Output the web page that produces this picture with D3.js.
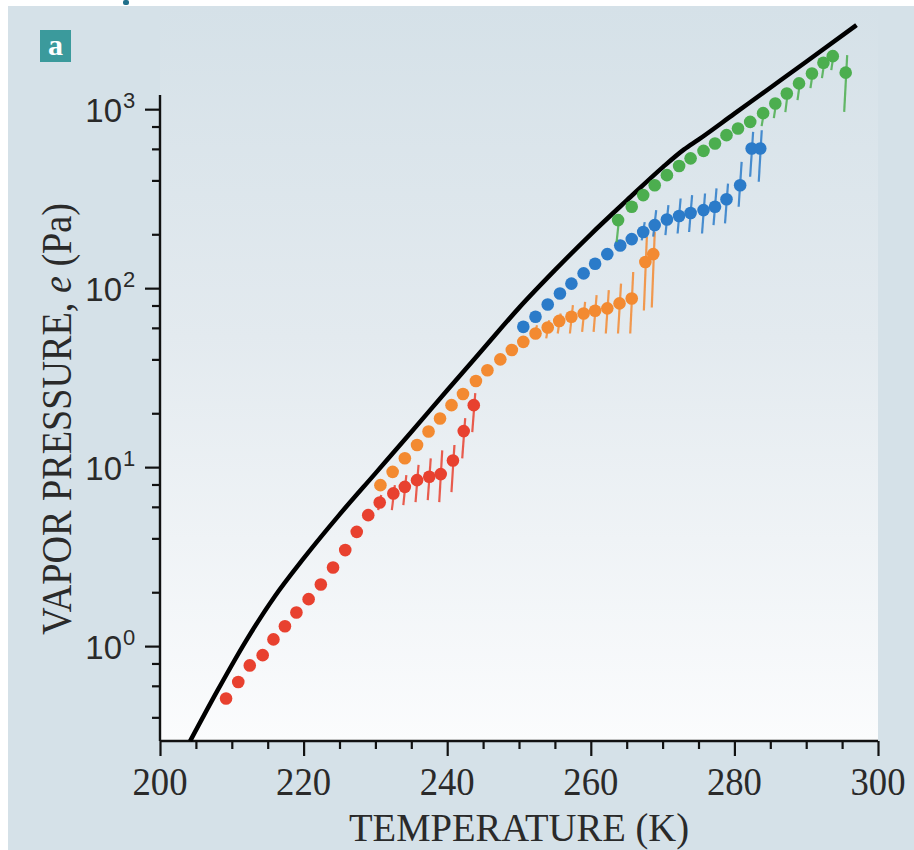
<!DOCTYPE html>
<html><head><meta charset="utf-8">
<script src="https://cdn.jsdelivr.net/npm/d3@7"></script>
<style>html,body{margin:0;padding:0;background:#fff;}svg{display:block;}</style>
</head><body>
<svg id="chart" width="914" height="850"></svg>
<script>
// ---------- data ----------
const xTickValues = [200, 220, 240, 260, 280, 300];
const xTickLabels = ["200", "220", "240", "260", "280", "300"];
const xMinorTicks = [205, 210, 215, 225, 230, 235, 245, 250, 255, 265, 270, 275, 285, 290, 295];
const yTickValues = [1, 10, 100, 1000];
const yTickExponents = ["0", "1", "2", "3"];
const yMinorTicks = [0.4, 0.6, 0.8, 2, 4, 6, 8, 20, 40, 60, 80, 200, 400, 600, 800];

// saturation curve (black)
const curveT = [204.2, 208, 212, 216, 220, 225, 230, 235, 240, 245, 250, 255, 260, 265, 270, 273, 275, 280, 285, 290, 297];
const curveE = [0.295, 0.564, 1.074, 1.90, 3.09, 5.43, 9.23, 15.7, 26.9, 45.7, 77.6, 126, 200, 309, 473, 596, 676, 944, 1318, 1841, 2951];

// red series
const redT  = [209.2, 210.9, 212.5, 214.3, 215.8, 217.4, 219.0, 220.7, 222.4, 224.1, 225.8, 227.4, 229.0, 230.6, 232.5, 234.1, 235.8, 237.5, 239.1, 240.8, 242.3, 243.7];
const redE  = [0.51, 0.63, 0.78, 0.89, 1.09, 1.29, 1.54, 1.83, 2.21, 2.75, 3.44, 4.35, 5.39, 6.35, 7.13, 7.76, 8.46, 8.83, 9.14, 10.9, 15.9, 22.2];
const redLo = [null, null, null, null, null, null, null, null, null, null, null, null, null, 5.75, 5.75, 6.13, 6.37, 6.54, 6.37, 7.25, 11.2, 15.7];
const redHi = [null, null, null, null, null, null, null, null, null, null, null, null, null, 6.98, 7.93, 9.03, 10.3, 11.2, 12.4, 13.3, 18.8, 25.9];

// orange series
const orangeT  = [230.7, 232.4, 234.1, 235.8, 237.4, 239.0, 240.6, 242.2, 244.0, 245.6, 247.4, 249.0, 250.6, 252.3, 254.0, 255.6, 257.3, 259.0, 260.6, 262.3, 264.0, 265.7, 267.6, 268.7];
const orangeE  = [7.93, 9.41, 11.2, 13.3, 15.8, 18.7, 22.2, 25.6, 30.3, 34.8, 40.0, 45.1, 50.1, 55.8, 60.3, 65.6, 69.2, 72.2, 74.7, 77.1, 82.2, 87.6, 140, 155];
const orangeLo = [null, null, null, null, null, null, null, null, null, null, null, null, null, 53.5, 52.4, 55.8, 55.8, 57.0, 57.0, 55.8, 55.8, 55.8, 75, 78];
const orangeHi = [null, null, null, null, null, null, null, null, null, null, null, null, null, 62.1, 66.2, 72.2, 80.4, 83.8, 91.4, 97.4, 106, 123, 194, 206];

// blue series
const blueT  = [250.6, 252.3, 254.0, 255.7, 257.3, 259.0, 260.6, 262.3, 264.1, 265.7, 267.3, 268.9, 270.6, 272.3, 273.9, 275.7, 277.3, 278.9, 280.8, 282.4, 283.6];
const blueE  = [60.8, 69.2, 81.1, 93.4, 106, 121, 137, 155, 173, 188, 206, 225, 242, 253, 263, 273, 285, 314, 376, 603, 603];
const blueLo = [null, null, null, null, null, null, null, null, null, null, 185, 194, 198, 202, 206, 202, 225, 230, 285, 419, 393];
const blueHi = [null, null, null, null, null, null, null, null, null, null, 234, 273, 291, 317, 331, 338, 361, 384, 508, 747, 763];

// green series
const greenT  = [263.8, 265.7, 267.3, 268.9, 270.6, 272.3, 273.9, 275.7, 277.3, 278.9, 280.5, 282.2, 284.0, 285.7, 287.3, 289.0, 290.8, 292.4, 293.7, 295.5];
const greenE  = [240, 285, 331, 376, 428, 481, 531, 585, 643, 716, 780, 849, 950, 1076, 1224, 1393, 1583, 1816, 1978, 1600];
const greenLo = [181, null, null, null, null, null, null, null, null, null, null, null, 804, 891, 962, 1122, 1310, 1490, 1651, 966];
const greenHi = [259, null, null, null, null, null, null, null, null, null, null, null, 1013, 1151, 1310, 1490, 1694, 1927, 2137, 2004];

const seriesColors = ["#e8412f", "#f38a31", "#2b7bc9", "#4cae4f"];

// ---------- drawing ----------
const svg = d3.select("#chart");
const x = d3.scaleLinear().domain([200, 300]).range([160, 878]);
const y = d3.scaleLog().domain([0.295, 1200]).range([741, 95]);

// panel background
svg.append("rect").attr("x", 0).attr("y", 0).attr("width", 914).attr("height", 850).attr("fill", "#ffffff");
svg.append("rect").attr("x", 8).attr("y", 6).attr("width", 906).attr("height", 844).attr("fill", "#d5e1e8");
svg.append("rect").attr("x", 123).attr("y", 0).attr("width", 6).attr("height", 5).attr("rx", 2).attr("fill", "#1f6f8b");

const defs = svg.append("defs");
const grad = defs.append("linearGradient").attr("id", "bg").attr("x1", 0).attr("y1", 0).attr("x2", 0).attr("y2", 1);
grad.append("stop").attr("offset", "0%").attr("stop-color", "#d5e1e8");
grad.append("stop").attr("offset", "45%").attr("stop-color", "#e3eaef");
grad.append("stop").attr("offset", "100%").attr("stop-color", "#fbfcfd");
svg.append("rect").attr("x", 160).attr("y", 6).attr("width", 718).attr("height", 735).attr("fill", "url(#bg)");

// label "a"
svg.append("rect").attr("x", 40).attr("y", 30).attr("width", 31).attr("height", 32).attr("fill", "#3b9a9c");
svg.append("text").attr("x", 55.5).attr("y", 55).attr("text-anchor", "middle")
  .attr("font-family", "Liberation Serif").attr("font-weight", "bold").attr("font-size", 30).attr("fill", "#fff").text("a");

// axes
const axisColor = "#111";
const xAxisG = svg.append("g").attr("transform", "translate(0,741)");
xAxisG.call(d3.axisBottom(x).tickValues(xMinorTicks).tickSize(8).tickFormat(""));
xAxisG.call(g => g.select(".domain").remove());
const xMajor = svg.append("g").attr("transform", "translate(0,741)");
xMajor.call(d3.axisBottom(x).tickValues(xTickValues).tickSize(15).tickFormat(""));
[xAxisG, xMajor].forEach(g => {
  g.selectAll("line").attr("stroke", axisColor).attr("stroke-width", 2.2);
  g.selectAll(".domain").attr("stroke", axisColor).attr("stroke-width", 2.4);
});
xMajor.select(".domain").attr("d", `M${x(200)},0H${x(300)}`);

const yAxisG = svg.append("g").attr("transform", "translate(160,0)");
yAxisG.call(d3.axisLeft(y).tickValues(yMinorTicks).tickSize(8).tickFormat(""));
yAxisG.call(g => g.select(".domain").remove());
const yMajor = svg.append("g").attr("transform", "translate(160,0)");
yMajor.call(d3.axisLeft(y).tickValues(yTickValues).tickSize(15).tickFormat(""));
[yAxisG, yMajor].forEach(g => {
  g.selectAll("line").attr("stroke", axisColor).attr("stroke-width", 2.2);
  g.selectAll(".domain").attr("stroke", axisColor).attr("stroke-width", 2.4);
});
yMajor.select(".domain").attr("d", `M0,${y.range()[0]}V${y.range()[1]}`);

// x tick labels
svg.append("g").selectAll("text").data(xTickValues).join("text")
  .attr("x", d => x(d)).attr("y", 795).attr("text-anchor", "middle")
  .attr("font-family", "Liberation Serif").attr("font-size", 40).attr("fill", "#2a2a2a")
  .attr("textLength", 55).attr("lengthAdjust", "spacingAndGlyphs")
  .text((d, i) => xTickLabels[i]);

// y tick labels 10^n
const yl = svg.append("g").selectAll("g").data(yTickValues).join("g");
yl.append("text").attr("x", 122).attr("y", d => y(d) + 13).attr("text-anchor", "end")
  .attr("font-family", "Liberation Sans").attr("font-size", 33).attr("fill", "#2a2a2a").text("10");
yl.append("text").attr("x", 123).attr("y", d => y(d) - 1).attr("text-anchor", "start")
  .attr("font-family", "Liberation Sans").attr("font-size", 22).attr("fill", "#2a2a2a")
  .text((d, i) => yTickExponents[i]);

// axis titles
svg.append("text").attr("x", 519).attr("y", 841).attr("text-anchor", "middle")
  .attr("font-family", "Liberation Serif").attr("font-size", 41).attr("fill", "#2a2a2a")
  .attr("textLength", 340).attr("lengthAdjust", "spacingAndGlyphs")
  .text("TEMPERATURE (K)");
const yt = svg.append("text").attr("transform", "translate(71,419) rotate(-90)").attr("text-anchor", "middle")
  .attr("font-family", "Liberation Serif").attr("font-size", 42).attr("fill", "#2a2a2a")
  .attr("textLength", 432).attr("lengthAdjust", "spacingAndGlyphs");
yt.append("tspan").text("VAPOR PRESSURE, ");
yt.append("tspan").attr("font-style", "italic").text("e");
yt.append("tspan").text(" (Pa)");

// black curve
const curvePts = curveT.map((t, i) => [t, curveE[i]]);
svg.append("path").datum(curvePts)
  .attr("d", d3.line().x(d => x(d[0])).y(d => y(d[1])).curve(d3.curveMonotoneX))
  .attr("fill", "none").attr("stroke", "#000").attr("stroke-width", 4.5).attr("stroke-linecap", "butt");

// series
const series = [
  {T: redT, E: redE, lo: redLo, hi: redHi},
  {T: orangeT, E: orangeE, lo: orangeLo, hi: orangeHi},
  {T: blueT, E: blueE, lo: blueLo, hi: blueHi},
  {T: greenT, E: greenE, lo: greenLo, hi: greenHi}
];
series.forEach((s, k) => {
  const pts = s.T.map((t, i) => ({t, e: s.E[i], lo: s.lo[i], hi: s.hi[i]}));
  const g = svg.append("g");
  g.selectAll("line").data(pts.filter(p => p.lo != null)).join("line")
    .attr("x1", p => x(p.t) - 1.5).attr("x2", p => x(p.t) + 1.5)
    .attr("y1", p => y(p.lo)).attr("y2", p => y(p.hi))
    .attr("stroke", seriesColors[k]).attr("stroke-width", 2.2).attr("stroke-opacity", 0.85);
  g.selectAll("circle").data(pts).join("circle")
    .attr("cx", p => x(p.t)).attr("cy", p => y(p.e)).attr("r", 6.3)
    .attr("fill", seriesColors[k]);
});
</script>
</body></html>
